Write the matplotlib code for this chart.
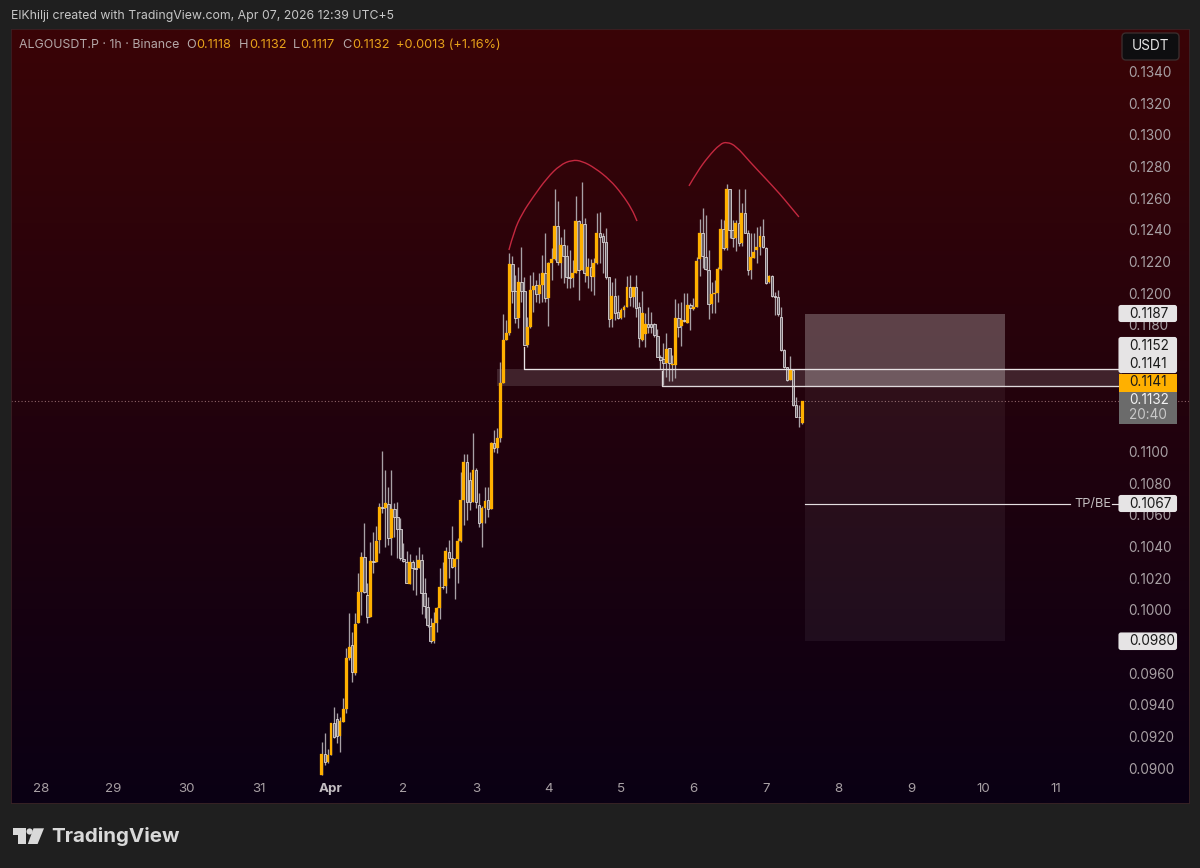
import matplotlib
matplotlib.use("Agg")
import matplotlib.pyplot as plt
import numpy as np
from matplotlib.patches import FancyBboxPatch, Polygon, Circle, PathPatch, Rectangle
from matplotlib.path import Path

plt.rcParams['font.family'] = ['Inter', 'DejaVu Sans']

# Hourly candles, first one Mar 31 21:00 (hour -3 relative to Apr 1 00:00)
opens = [.08955,.09088,.09040,.09082,.09282,.09307,.09202,.09292,.09370,.09692,.09777,.09598,.09914,.10109,.10335,.10093,.09951,.10309,.10301,.10440,
.10651,.10640,.10667,.10451,.10634,.10583,.10507,.10318,.10303,.10162,.10303,.10261,.10261,.10314,.10103,.10019,.09899,.09804,.09918,.10008,
.10145,.10149,.10366,.10328,.10272,.10318,.10434,.10693,.10931,.10819,.10682,.10882,.10661,.10550,.10640,.10693,.10634,.11055,.11019,.11085,
.11430,.11704,.11746,.12182,.12016,.11841,.12072,.12016,.11672,.11788,.12020,.12051,.11995,.12051,.12129,.11967,.12188,.12214,.12424,.12188,
.12304,.12235,.12104,.12094,.12125,.12458,.12146,.12437,.12108,.12163,.12104,.12188,.12382,.12361,.12325,.12100,.11835,.11982,.11883,.11841,
.11893,.11915,.12041,.11978,.12037,.11910,.11704,.11742,.11805,.11805,.11805,.11729,.11599,.11582,.11561,.11651,.11546,.11546,.11841,.11792,
.11830,.11813,.11925,.11898,.11910,.12214,.12382,.12230,.12146,.11931,.11995,.12003,.12150,.12403,.12283,.12658,.12399,.12346,.12441,.12315,
.12504,.12382,.12146,.12220,.12273,.12289,.12363,.12283,.12072,.12108,.11982,.11978,.11847,.11641,.11531,.11451,.11514,.11293,.11220,.1118]
highs = [.09166,.09219,.09117,.09286,.09387,.09345,.09324,.09440,.09756,.09977,.09861,.09977,.10229,.10366,.10550,.10166,.10430,.10493,.10531,.10672,
.11004,.10882,.10777,.10882,.10672,.10682,.10577,.10419,.10373,.10352,.10314,.10345,.10394,.10352,.10198,.10082,.09945,.09987,.10019,.10261,
.10303,.10394,.10440,.10531,.10324,.10451,.10872,.10983,.10983,.10872,.11114,.10893,.10735,.10655,.10777,.10777,.11061,.11135,.11146,.11565,
.11866,.11830,.12251,.12235,.12115,.12163,.12294,.12104,.11851,.12115,.12136,.12083,.12125,.12241,.12382,.12199,.12283,.12658,.12584,.12357,
.12403,.12304,.12273,.12209,.12616,.12462,.12704,.12477,.12220,.12214,.12220,.12504,.12515,.12378,.12409,.12104,.12072,.12094,.11988,.11904,
.11925,.12108,.12115,.12041,.12115,.11946,.12016,.11872,.11915,.11883,.11813,.11771,.11609,.11687,.11746,.11651,.11609,.11961,.11940,.11946,
.12003,.12003,.11940,.11967,.12226,.12466,.12536,.12494,.12273,.12072,.12083,.12167,.12466,.12462,.12690,.12658,.12462,.12462,.12658,.12567,
.12658,.12399,.12378,.12378,.12420,.12424,.12466,.12289,.12115,.12115,.12009,.12020,.11915,.11645,.11535,.11603,.11519,.11346,.11293,.1132]
lows = [.08955,.09018,.09029,.09082,.09187,.09155,.09103,.09292,.09345,.09682,.09545,.09587,.09914,.09966,.10103,.09914,.09951,.10234,.10301,.10356,
.10613,.10398,.10408,.10345,.10461,.10324,.10314,.10303,.10166,.10162,.10124,.10093,.10261,.09972,.09945,.09892,.09791,.09791,.09861,.09939,
.10128,.10103,.10198,.10261,.10065,.10170,.10430,.10535,.10566,.10630,.10682,.10640,.10524,.10394,.10550,.10583,.10634,.10998,.10988,.11059,
.11430,.11704,.11736,.11936,.11809,.11778,.11946,.11672,.11662,.11778,.11883,.11946,.11936,.11946,.11946,.11792,.12083,.12209,.12178,.12094,
.12062,.12030,.12030,.12041,.12125,.11957,.12146,.12072,.12030,.12016,.11988,.12184,.12188,.12125,.12087,.11784,.11784,.11830,.11835,.11837,
.11851,.11910,.11919,.11915,.11847,.11658,.11700,.11662,.11746,.11746,.11725,.11594,.11519,.11420,.11472,.11447,.11447,.11462,.11725,.11666,
.11820,.11813,.11767,.11893,.11910,.12108,.12157,.12146,.11837,.11877,.11872,.11946,.12146,.12273,.12273,.12346,.12294,.12266,.12298,.12298,
.12378,.12115,.12087,.12220,.12188,.12241,.12283,.12056,.12062,.11978,.11862,.11856,.11637,.11525,.11447,.11451,.11287,.11215,.11156,.1117]
closes = [.09088,.09040,.09082,.09282,.09197,.09202,.09299,.09370,.09692,.09766,.09608,.09909,.10109,.10335,.10109,.09951,.10309,.10301,.10436,.10651,
.10640,.10672,.10451,.10634,.10583,.10507,.10324,.10309,.10170,.10303,.10261,.10259,.10314,.10103,.10023,.09903,.09804,.09918,.10008,.10145,
.10141,.10373,.10328,.10272,.10318,.10434,.10693,.10931,.10682,.10682,.10882,.10682,.10545,.10640,.10689,.10634,.11055,.11019,.11082,.11432,
.11704,.11746,.12182,.12016,.11841,.12072,.12016,.11672,.11788,.12020,.12045,.11995,.12051,.12129,.11967,.12188,.12214,.12424,.12199,.12304,
.12235,.12104,.12094,.12125,.12458,.12146,.12437,.12125,.12163,.12108,.12188,.12382,.12357,.12325,.12100,.11835,.11982,.11872,.11841,.11893,
.11915,.12041,.11978,.12037,.11904,.11714,.11872,.11805,.11788,.11788,.11736,.11599,.11578,.11561,.11645,.11557,.11550,.11845,.11788,.11830,
.11826,.11925,.11904,.11910,.12205,.12382,.12235,.12150,.11931,.11995,.12003,.12150,.12403,.12283,.12658,.12399,.12346,.12445,.12315,.12508,
.12382,.12146,.12226,.12262,.12294,.12363,.12289,.12062,.12108,.11982,.11978,.11868,.11641,.11531,.11451,.11514,.11293,.11220,.11215,.1132]

day_hours = [-96, -72, -48, -24, 0, 24, 48, 72, 96, 120, 144, 168, 192, 216, 240]
day_labels = ['28', '29', '30', '31', 'Apr', '2', '3', '4', '5', '6', '7', '8', '9', '10', '11']
price_ticks = [.0900 + .002 * i for i in range(23)]
covered_ticks = ['0.0980', '0.1120', '0.1140', '0.1160']  # sit under the price tags in the reference

left_top_hour, short_line_hour = 64.0, 109.7
line_upper, line_lower, current_price = .1152, .1141, .1132
tp_price, stop_price, target_price = .1067, .1187, .0980
band_start, box_start, box_end, tp_end = 54.8, 156.9, 223.1, 244.8

hump1_h = [58.9,60.6,63.2,66.9,71.5,75.8,79.8,83.1,87.4,92.4,96.3,99.6,101.3]
hump1_p = [.12272,.12392,.12500,.12607,.12727,.12809,.12841,.12834,.12790,.12714,.12626,.12531,.12455]
hump2_h = [118.5,121.2,124.8,128.8,131.1,134.1,138.7,143.7,148.6,151.9,154.9]
hump2_p = [.12677,.12765,.12860,.12942,.12955,.12929,.12828,.12727,.12626,.12550,.12481]

BG = '#1f1f1f'
UP = '#FFB000'
fig = plt.figure(figsize=(12, 8.68), dpi=100, facecolor=BG)
ax = fig.add_axes([11/1200, 1-803/868, 1178/1200, 774/868])

top = np.array([0x3a, 0x04, 0x06]) / 255
bot = np.array([0x0a, 0x00, 0x14]) / 255
f = np.linspace(0, 1, 256)[:, None]
ax.imshow((top * (1 - f) + bot * f)[:, None, :], extent=(0, 1, 0, 1), transform=ax.transAxes,
          aspect='auto', zorder=0, interpolation='bilinear')
ax.set_xlim(-105.93, 284.03)
ax.set_ylim(.08779, .13668)

o, h, l, c = map(np.array, (opens, highs, lows, closes))
t = np.arange(len(o)) - 3
up = c >= o
ax.vlines(t, l, h, color='#a8a1a6', lw=0.95, zorder=3)
ax.bar(t[~up], np.abs(c - o)[~up], bottom=np.minimum(o, c)[~up], width=0.85,
       facecolor='#6a6068', edgecolor='#dcd8da', lw=0.6, zorder=4)
ax.bar(t[up], np.abs(c - o)[up], bottom=np.minimum(o, c)[up], width=0.95,
       facecolor=UP, edgecolor=UP, lw=0.2, zorder=5)

# short position box and zone
ax.add_patch(Rectangle((box_start, line_lower), box_end - box_start, stop_price - line_lower,
                       fc='white', alpha=0.25, lw=0, zorder=2))
ax.add_patch(Rectangle((box_start, target_price), box_end - box_start, line_lower - target_price,
                       fc='white', alpha=0.055, lw=0, zorder=2))
ax.add_patch(Rectangle((band_start, line_lower), 262 - band_start, line_upper - line_lower,
                       fc='white', alpha=0.13, lw=0, zorder=2))
ax.plot([left_top_hour, left_top_hour, 262], [.1166, line_upper, line_upper], color='#e8e2e4', lw=0.95, zorder=6)
ax.plot([short_line_hour, short_line_hour, 262], [.1151, line_lower, line_lower], color='#e0dadc', lw=0.95, zorder=6)
ax.plot([box_start, tp_end], [tp_price, tp_price], color='#e4dee0', lw=0.85, zorder=6)
ax.plot([258.5, 262], [tp_price, tp_price], color='#e4dee0', lw=0.85, zorder=6)
ax.axhline(current_price, color='#8d6468', lw=0.8, ls=(0, (1, 2)), zorder=1.5)


def smooth(hh, pp):
    pts = list(zip(hh, pp))
    verts, codes = [pts[0]], [Path.MOVETO]
    for a, b in zip(pts[1:-1], pts[2:]):
        verts += [a, ((a[0] + b[0]) / 2, (a[1] + b[1]) / 2)]
        codes += [Path.CURVE3, Path.CURVE3]
    verts.append(pts[-1])
    codes.append(Path.LINETO)
    return Path(verts, codes)


for hh, pp in ((hump1_h, hump1_p), (hump2_h, hump2_p)):
    ax.add_patch(PathPatch(smooth(hh, pp), fc='none', ec='#c4283f', lw=1.0, zorder=7))

ax.yaxis.tick_right()
ax.set_yticks(price_ticks)
ylabels = [f'{p:.4f}' for p in price_ticks]
ax.set_yticklabels([s if s not in covered_ticks else '' for s in ylabels], fontsize=9.8, color='#a8a0a4')
ax.tick_params(axis='y', length=0, pad=-43.4, direction='in')
ax.set_xticks(day_hours)
ax.set_xticklabels(day_labels, fontsize=9.6, color='#a8a0a4')
ax.tick_params(axis='x', length=0, pad=-14.2, direction='in')
for lab in ax.get_xticklabels():
    if lab.get_text() == 'Apr':
        lab.set_fontweight('bold')
        lab.set_color('#c4bec2')
for s in ax.spines.values():
    s.set_color('#3a2226')
    s.set_linewidth(0.6)

# chrome overlay in figure pixels
ov = fig.add_axes([0, 0, 1, 1], facecolor='none', zorder=10)
ov.set_xlim(0, 1200)
ov.set_ylim(868, 0)
ov.axis('off')


def tag(y0, y1, fc, x0=1118.5, x1=1177):
    ov.add_patch(FancyBboxPatch((x0 + 1, y0 + 1), x1 - x0 - 2, y1 - y0 - 2,
                                boxstyle='round,pad=0,rounding_size=1.5', mutation_aspect=1,
                                fc=fc, ec=fc, lw=1.5, zorder=3))


def tagtext(y, s, col):
    ov.text(1129, y, s, color=col, fontsize=9.8, va='center', ha='left', zorder=5)


for y0, y1, s, yt in ((305, 322, '0.1187', 313.6), (495, 512, '0.1067', 503.6), (632.5, 650, '0.0980', 641.3)):
    tag(y0, y1, '#e6e4e5')
    tagtext(yt, s, '#1a1a1a')
tag(337, 373, '#e6e4e5')
tagtext(346, '0.1152', '#1a1a1a')
tagtext(364, '0.1141', '#1a1a1a')
ov.add_patch(Rectangle((1118.5, 373.5), 58.5, 18, fc='#FFB000', lw=0, zorder=4))
tagtext(382, '0.1141', '#1a1a1a')
ov.add_patch(Rectangle((1118.5, 391.5), 58.5, 32.5, fc='#6b6b6b', lw=0, zorder=4))
tagtext(400, '0.1132', '#f2f2f2')
tagtext(415, '20:40', '#c8c8c8')
ov.text(1093, 503.6, 'TP/BE', color='#c4bec0', fontsize=9.2, ha='center', va='center')

# currency button
ov.add_patch(FancyBboxPatch((1122, 33), 57, 27, boxstyle='round,pad=0,rounding_size=4',
                            fc='#0e0e10', ec='#3a2c2c', lw=1))
ov.text(1131.5, 46.5, 'USDT', color='#e6e6e6', fontsize=9.8, va='center', ha='left')

# header and legend
ov.text(11, 16.5, 'ElKhilji created with TradingView.com, Apr 07, 2026 12:39 UTC+5', color='#c6c6c6',
        fontsize=8.85, va='center', ha='left')
G, Y = '#b4a8a8', '#e8a21a'
ov.text(19, 45.5, 'ALGOUSDT.P · 1h · Binance', color=G, fontsize=8.9, va='center', ha='left')
for x, s, col in ((186, 'O', G), (196, '0.1118', Y), (239, 'H', G), (249, '0.1132', Y), (293, 'L', G),
                  (300, '0.1117', Y), (342, 'C', G), (352, '0.1132', Y), (396, '+0.0013 (+1.16%)', Y)):
    ov.text(x, 45.5, s, color=col, fontsize=9.2, va='center', ha='left')

# TradingView logo
LG = '#d9d9d9'
ov.add_patch(Polygon([(12.7, 828.3), (26, 828.3), (26, 844), (18.4, 844), (18.4, 834.5), (12.7, 834.5)], fc=LG, lw=0))
ov.add_patch(Circle((29.6, 831.5), 3.1, fc=LG, lw=0))
ov.add_patch(Polygon([(33.5, 828.3), (44, 828.3), (37.6, 844), (27.8, 844)], fc=LG, lw=0))
ov.text(51.5, 836.5, 'TradingView', color=LG, fontsize=14.8, fontweight='bold', va='center', ha='left')

fig.savefig('out.png', dpi=100, facecolor=BG)
